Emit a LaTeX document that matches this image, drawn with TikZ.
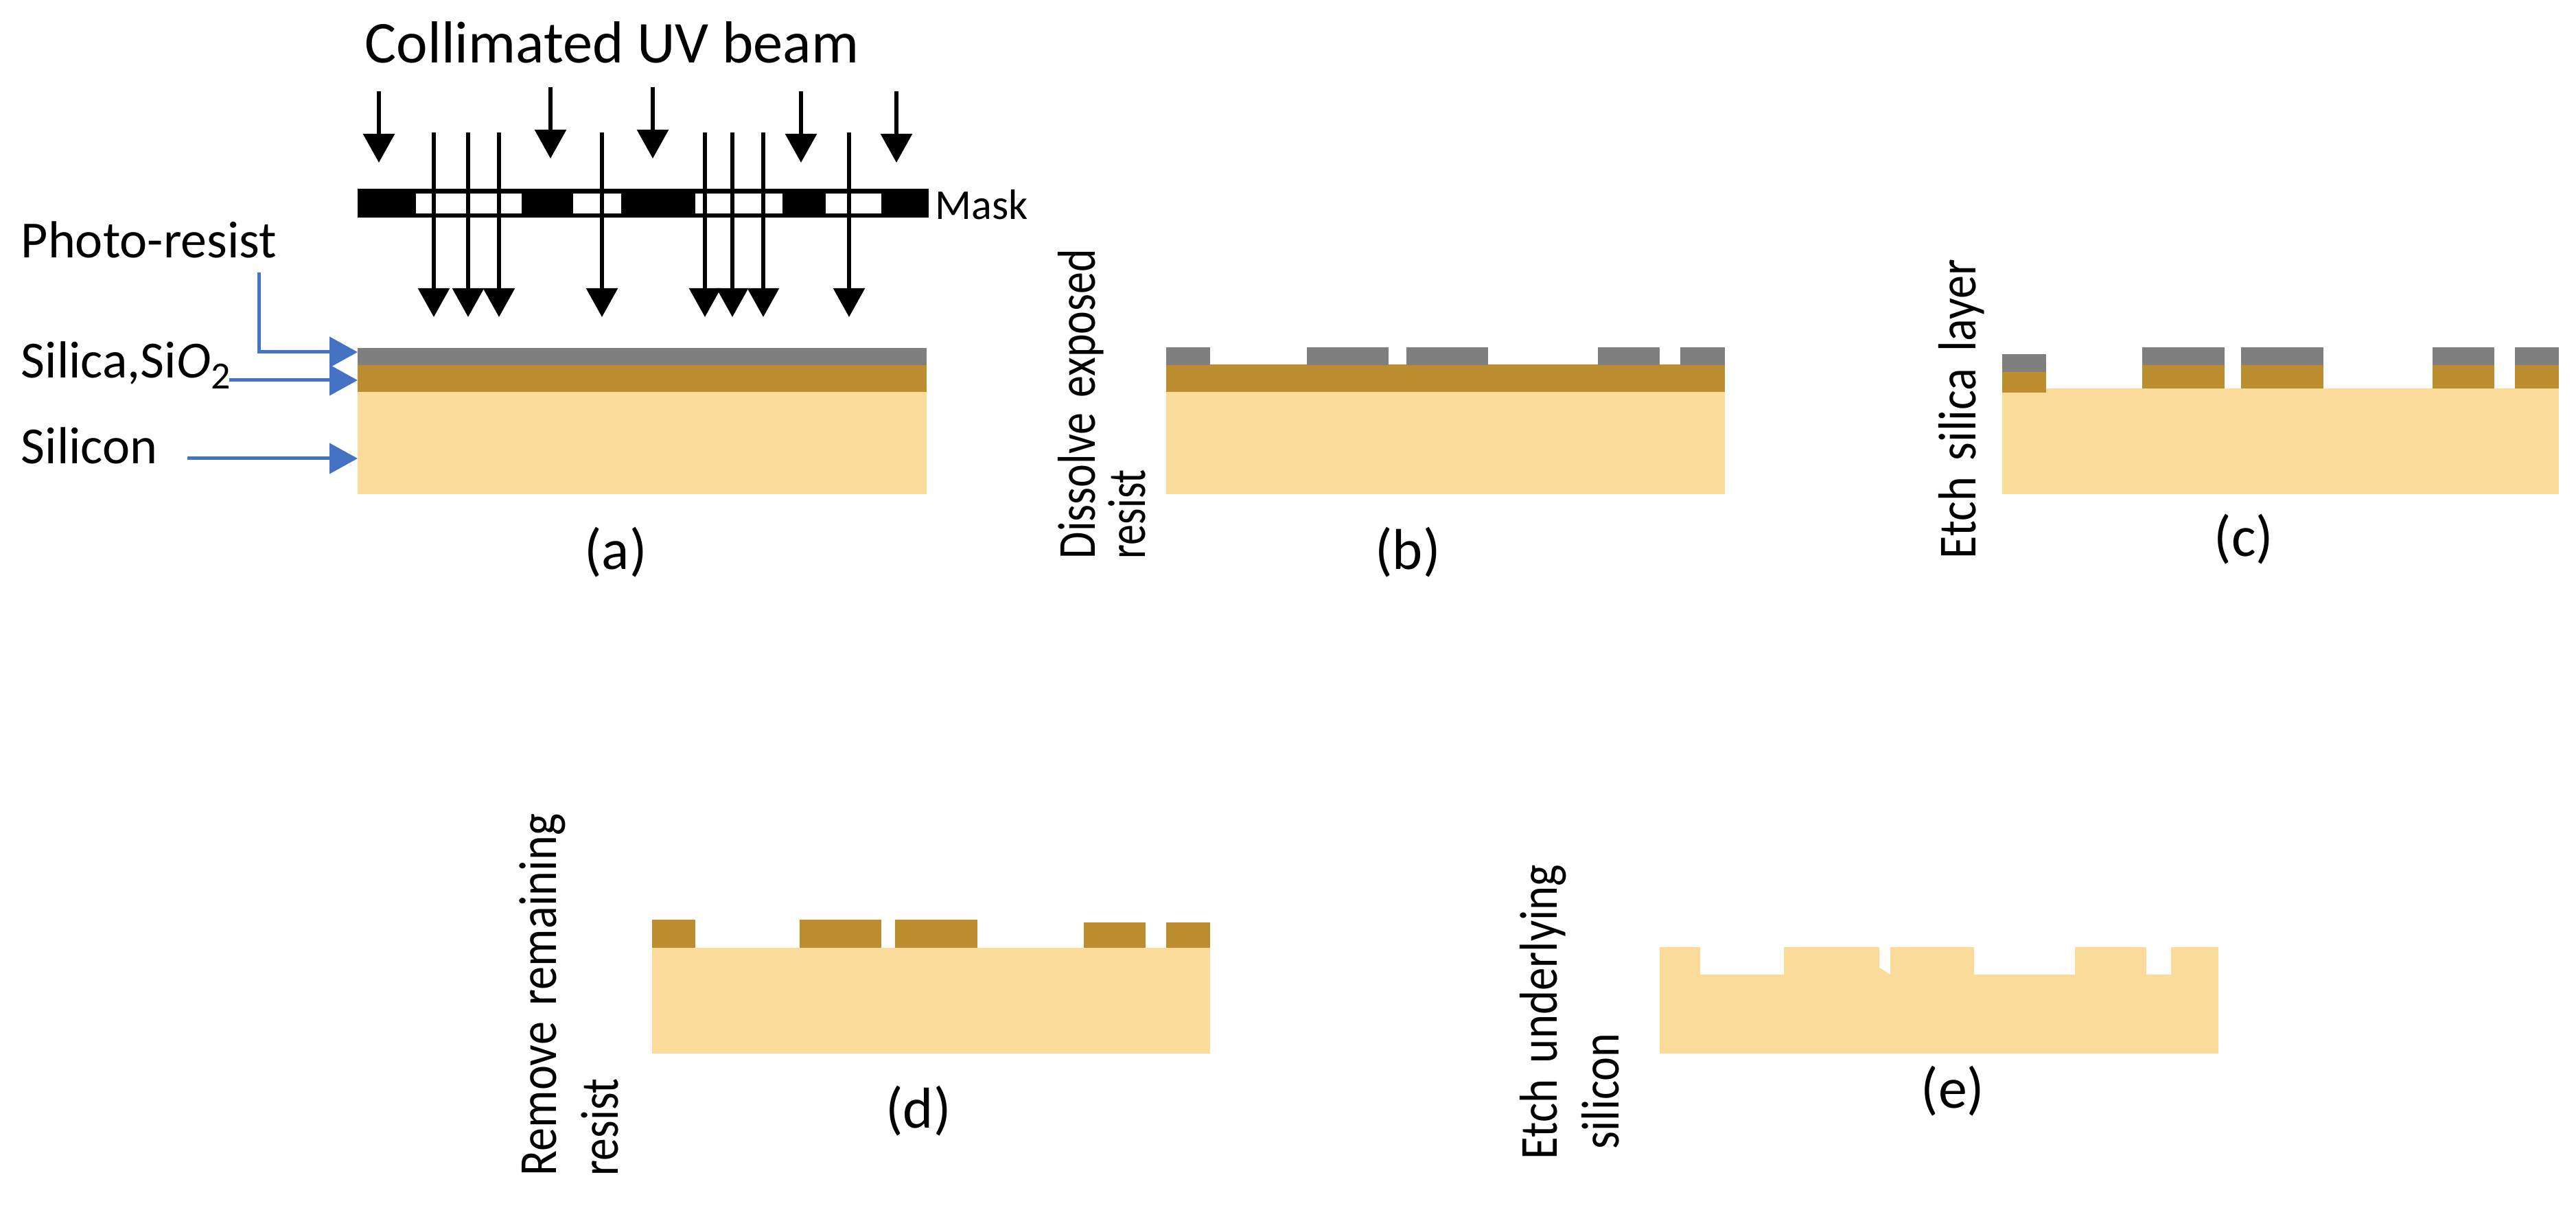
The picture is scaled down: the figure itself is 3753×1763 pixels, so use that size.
\documentclass[tikz,border=0pt]{standalone}
\usepackage{fontspec}
\usepackage{graphicx}
\setmainfont{Carlito}
\usetikzlibrary{arrows.meta}
\definecolor{resistc}{HTML}{7F7F7F}
\definecolor{silicac}{HTML}{BC8E30}
\definecolor{siliconc}{HTML}{FBDB9A}
\definecolor{bluec}{HTML}{4472C4}
\newcommand{\fsz}[1]{\fontsize{#1}{#1}\selectfont}
\newcommand{\vtxt}[2]{\scalebox{#1}[1]{#2}}
\tikzset{
  resistfill/.style={fill=resistc,draw=none},
  silicafill/.style={fill=silicac,draw=none},
  siliconfill/.style={fill=siliconc,draw=none},
  beam/.style={line width=1.5pt,-{Triangle[length=10.5pt,width=11.25pt]}},
  callout/.style={line width=1.25pt,bluec,-{Triangle[length=10.25pt,width=11pt]}},
  lab/.style={inner sep=0pt,anchor=base west,font=\fsz{19}},
  vlab/.style={inner sep=0pt,anchor=base west,rotate=90,font={\fsz{19.5}\spaceskip=.35em\relax}},
  captext/.style={inner sep=0pt,anchor=center,font=\fsz{21}}
}
\begin{document}
\begin{tikzpicture}[x=0.25pt,y=-0.25pt]
\useasboundingbox (0,0) rectangle (3753,1763);
% Panel (a)
\fill[siliconfill] (521,570) rectangle (1350,720);
\fill[silicafill] (521,531) rectangle (1350,571);
\fill[resistfill] (521,507) rectangle (1350,532);
% Mask
\fill[black] (521,275) rectangle (1353,317);
\foreach \xa/\xb in {606/760,835/905,1013/1140,1203/1284}
  \fill[white] (\xa,282) rectangle (\xb,311);
% Beam arrows
\foreach \n/\x/\y in {a/552/133,b/802/127,c/951/127,d/1167/133,e/1306/133}{
  \coordinate (s\n) at (\x,\y);
  \coordinate (t\n) at (\x,\y+104);
  \draw[beam] (s\n) -- (t\n);
}
\foreach \n/\x in {f/632,g/682,h/727,i/877,j/1027,k/1067,l/1112,m/1237}{
  \coordinate (s\n) at (\x,193);
  \coordinate (t\n) at (\x,462);
  \draw[beam] (s\n) -- (t\n);
}
% Labels of (a)
\node[inner sep=0pt,anchor=base west,font=\fsz{21.6}] (uv) at (531,92) {Collimated UV beam};
\node[inner sep=0pt,anchor=base west,font=\fsz{15.5}] (mask) at (1362,320) {Mask};
\node[lab] (pr) at (30,376) {Photo-resist};
\node[lab] (si) at (30,551) {Silica,Si\textit{O}\raisebox{-4pt}{\fsz{14}2}};
\node[lab] (sn) at (30,675) {Silicon};
\node[captext] (capa) at (897,805) {(a)};
% Callouts
\coordinate (prs) at (377,397);
\coordinate (prc) at (377,513);
\coordinate (prt) at (521,513);
\coordinate (sit) at (521,554);
\coordinate (snt) at (521,668);
\coordinate (sis) at (334,554);
\coordinate (sns) at (273,668);
\draw[callout] (prs) -- (prc) -- (prt);
\draw[callout] (sis) -- (sit);
\draw[callout] (sns) -- (snt);
% Panel (b)
\fill[siliconfill] (1699,570) rectangle (2513,720);
\fill[silicafill] (1699,531) rectangle (2513,571);
\foreach \xa/\xb in {1699/1763,1904/2023,2049/2168,2328/2418,2448/2513}
  \fill[resistfill] (\xa,506) rectangle (\xb,532);
\node[vlab] (b1) at (1595,815) {\vtxt{.82}{Dissolve exposed}};
\node[vlab] (b2) at (1668,815) {\vtxt{.77}{resist}};
\node[captext] (capb) at (2051,805) {(b)};
% Panel (c)
\fill[siliconfill] (2917,566) -- (3728,566) -- (3728,720) -- (2917,720) -- cycle;
\fill[silicafill] (2917,542) rectangle (2981,572);
\fill[resistfill] (2917,516) rectangle (2981,542);
\foreach \xa/\xb in {3121/3241,3265/3385,3544/3634,3664/3728}{
  \fill[silicafill] (\xa,531) rectangle (\xb,566);
  \fill[resistfill] (\xa,506) rectangle (\xb,532);
}
\node[vlab] (c1) at (2878,815) {\vtxt{.875}{Etch silica layer}};
\node[captext] (capc) at (3269,786) {(c)};
% Panel (d)
\fill[siliconfill] (950,1381) rectangle (1763,1535);
\foreach \xa/\xb/\yt in {950/1013/1340,1165/1284/1340,1304/1424/1340,1579/1669/1344,1699/1763/1344}
  \fill[silicafill] (\xa,\yt) rectangle (\xb,1381);
\node[vlab] (d1) at (810,1714) {\vtxt{.875}{Remove remaining}};
\node[vlab] (d2) at (900,1714) {\vtxt{.84}{resist}};
\node[captext] (capd) at (1338,1619) {(d)};
% Panel (e)
\fill[siliconfill] (2418,1380) -- (2477,1380) -- (2477,1420) -- (2599,1420) -- (2599,1380)
  -- (2738,1380) -- (2738,1410) -- (2754,1420) -- (2754,1380) -- (2876,1380) -- (2876,1420)
  -- (3023,1420) -- (3023,1380) -- (3127,1380) -- (3127,1420) -- (3163,1420) -- (3163,1380)
  -- (3232,1380) -- (3232,1535) -- (2418,1535) -- cycle;
\node[vlab] (e1) at (2268,1690) {\vtxt{.857}{Etch underlying}};
\node[vlab] (e2) at (2358,1675) {\vtxt{.85}{silicon}};
\node[captext] (cape) at (2845,1590) {(e)};
\end{tikzpicture}
\end{document}
